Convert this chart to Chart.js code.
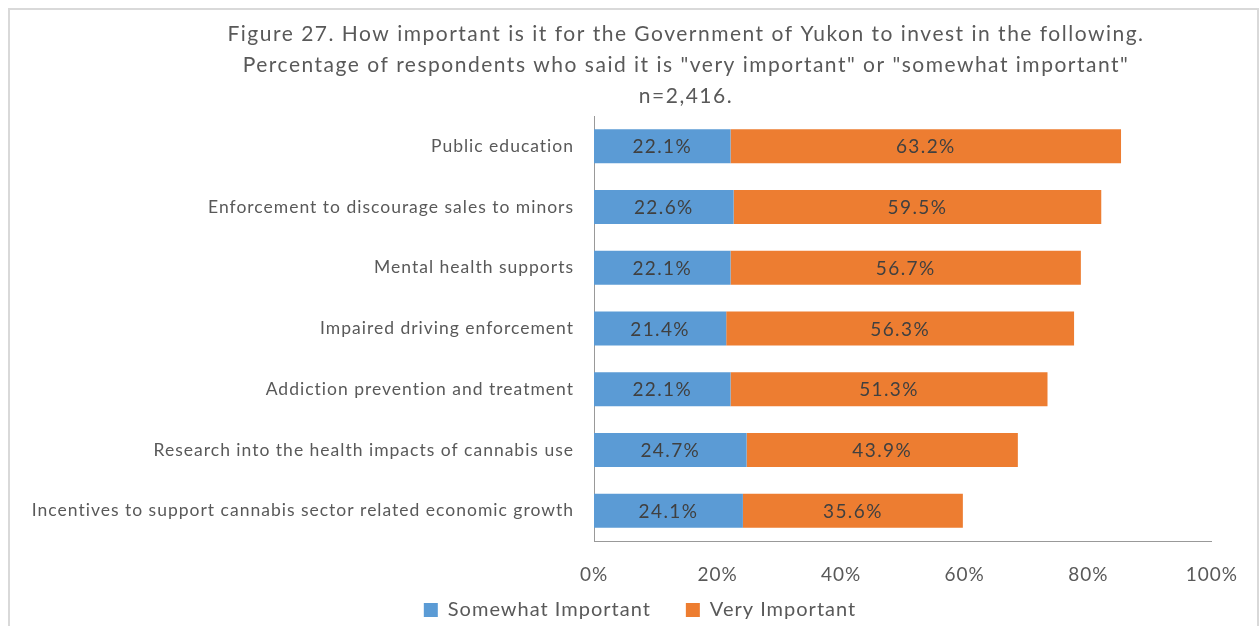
<!DOCTYPE html>
<html>
<head>
<meta charset="utf-8">
<title>Figure 27</title>
<script src="https://cdn.jsdelivr.net/npm/chart.js@4.4.1/dist/chart.umd.min.js"></script>
<style>
    html, body { margin: 0; padding: 0; background: #fff; overflow: hidden; }
    #frame { position: absolute; left: 8px; top: 8px; width: 1247px; height: 640px; border: 2px solid #d9d9d9; }
    #wrap { position: absolute; left: 0; top: 0; width: 1260px; height: 626px; }
</style>
</head>
<body>
<div id="frame"></div>
<div id="wrap"><canvas id="chart" width="1260" height="626"></canvas></div>
<script>
// Survey data: share of respondents rating each investment area
const titleLines = [
    'Figure 27. How important is it for the Government of Yukon to invest in the following.',
    'Percentage of respondents who said it is "very important" or "somewhat important"',
    'n=2,416.'
];
const categories = [
    'Public education',
    'Enforcement to discourage sales to minors',
    'Mental health supports',
    'Impaired driving enforcement',
    'Addiction prevention and treatment',
    'Research into the health impacts of cannabis use',
    'Incentives to support cannabis sector related economic growth'
];
const somewhatImportant = [22.1, 22.6, 22.1, 21.4, 22.1, 24.7, 24.1];
const veryImportant = [63.2, 59.5, 56.7, 56.3, 51.3, 43.9, 35.6];
const xTicks = [0, 20, 40, 60, 80, 100];

const FONT = 'Lato, "Open Sans", sans-serif';
const TEXT_GREY = '#595959';

// Slightly wider text spacing for everything Chart.js draws
const spacingPlugin = {
    id: 'spacing',
    beforeLayout(chart) { chart.ctx.letterSpacing = '1px'; },
    beforeDraw(chart) { chart.ctx.letterSpacing = '1px'; },
    // legend sits centred on the page, just under the axis labels
    afterLayout(chart) {
        const lg = chart.legend;
        const dx = 640 - (lg.left + lg.right) / 2;
        const dy = 565 - lg.top;
        lg.left += dx; lg.right += dx;
        lg.top += dy; lg.bottom += dy;
    }
};

// Three-line heading, centred over the plot rather than the canvas
const headingPlugin = {
    id: 'heading',
    afterDraw(chart) {
        const ctx = chart.ctx;
        ctx.save();
        ctx.font = '21px ' + FONT;
        ctx.letterSpacing = '1.5px';
        ctx.fillStyle = TEXT_GREY;
        ctx.textAlign = 'center';
        ctx.textBaseline = 'middle';
        titleLines.forEach((line, i) => ctx.fillText(line, 686, 34 + i * 31));
        ctx.restore();
    }
};

// Value labels in the middle of each bar segment
const barLabelPlugin = {
    id: 'barLabels',
    afterDatasetsDraw(chart) {
        const ctx = chart.ctx;
        ctx.save();
        ctx.font = '19px ' + FONT;
        ctx.letterSpacing = '1.4px';
        ctx.fillStyle = '#404040';
        ctx.textAlign = 'center';
        ctx.textBaseline = 'middle';
        chart.data.datasets.forEach((ds, i) => {
            chart.getDatasetMeta(i).data.forEach((bar, j) => {
                ctx.fillText(ds.data[j].toFixed(1) + '%', (bar.x + bar.base) / 2, bar.y + 1);
            });
        });
        ctx.restore();
    }
};

const ctx = document.getElementById('chart').getContext('2d');

new Chart(ctx, {
    type: 'bar',
    data: {
        labels: categories,
        datasets: [
            {
                label: 'Somewhat Important',
                data: somewhatImportant,
                backgroundColor: '#5b9bd5',
                borderWidth: 0
            },
            {
                label: 'Very Important',
                data: veryImportant,
                backgroundColor: '#ed7d31',
                borderWidth: 0
            }
        ]
    },
    options: {
        indexAxis: 'y',
        responsive: false,
        animation: false,
        datasets: {
            bar: { categoryPercentage: 1, barPercentage: 0.56 }
        },
        layout: {
            padding: { top: 116, left: 20, right: 42, bottom: -24 }
        },
        plugins: {
            title: { display: false },
            tooltip: { enabled: false },
            legend: {
                position: 'bottom',
                labels: {
                    color: TEXT_GREY,
                    font: { family: FONT, size: 20 },
                    boxWidth: 14,
                    boxHeight: 14,
                    padding: 35
                }
            }
        },
        scales: {
            x: {
                stacked: true,
                min: 0,
                max: 100,
                afterBuildTicks: scale => {
                    scale.ticks = xTicks.map(v => ({ value: v }));
                },
                afterFit: scale => { scale.height = 44; },
                grid: { display: false, drawTicks: false },
                border: { display: true, color: '#999999', dash: [1, 1] },
                ticks: {
                    color: TEXT_GREY,
                    font: { family: FONT, size: 19 },
                    padding: 22,
                    callback: v => v + '%'
                }
            },
            y: {
                stacked: true,
                afterFit: scale => { scale.width = 594 - 20; },
                grid: { display: false, drawTicks: false },
                border: { display: true, color: '#999999', dash: [1, 1] },
                ticks: {
                    color: TEXT_GREY,
                    font: { family: FONT, size: 17.5 },
                    padding: 20,
                    autoSkip: false
                }
            }
        }
    },
    plugins: [spacingPlugin, headingPlugin, barLabelPlugin]
});
</script>
</body>
</html>
